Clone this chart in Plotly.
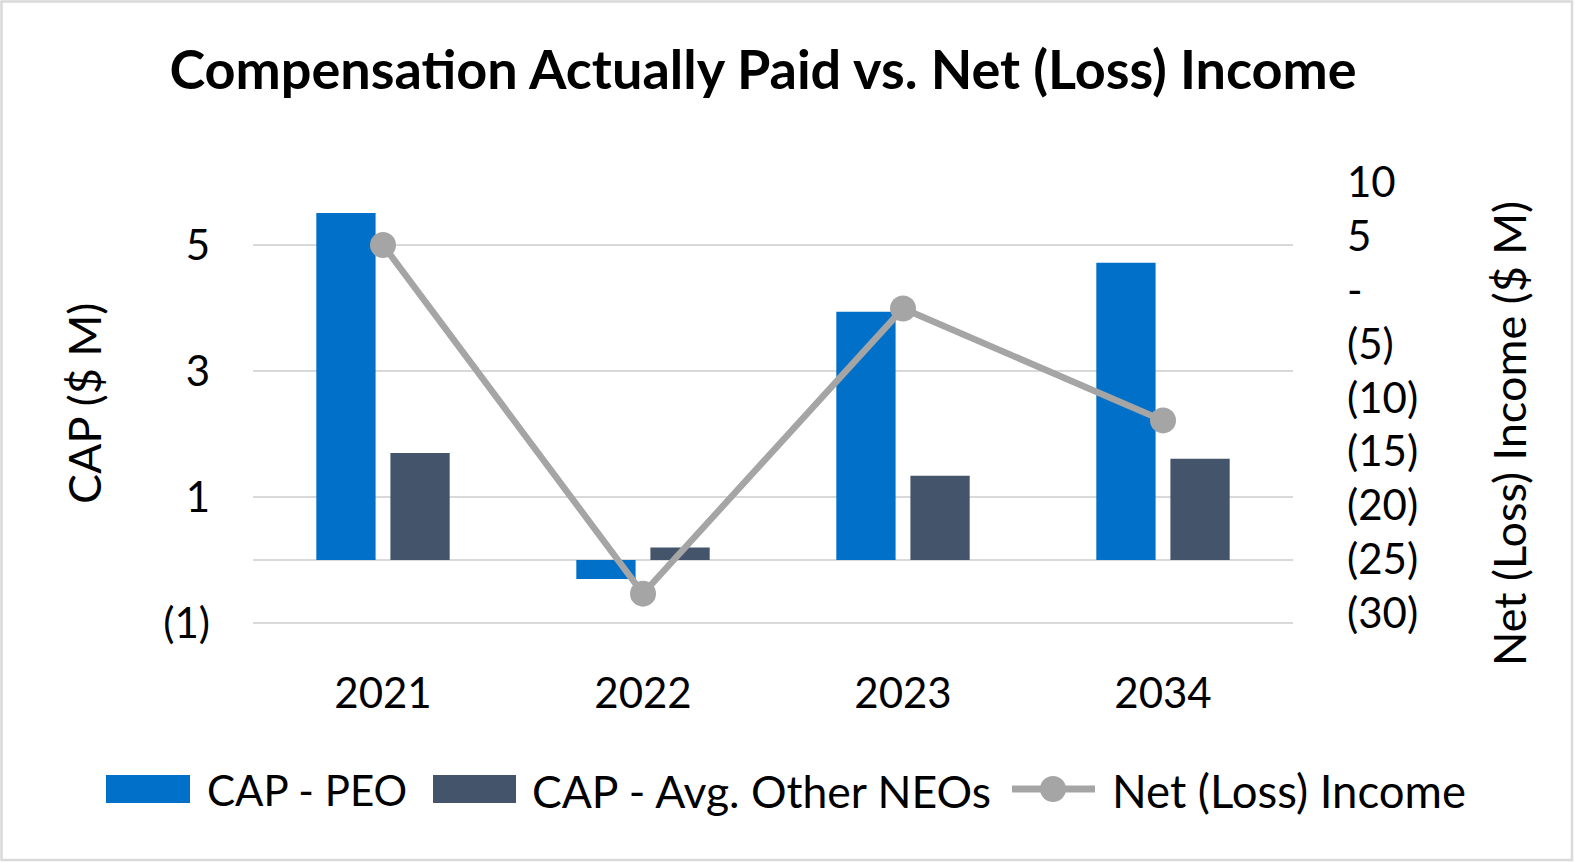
import plotly.graph_objects as go

# ---- data ----
years = ["2021", "2022", "2023", "2034"]
cap_peo = [5.51, -0.30, 3.94, 4.72]
cap_neo = [1.70, 0.20, 1.34, 1.61]
net_income = [4.2, -28.2, -1.7, -12.1]

left_tickvals = [-1, 1, 3, 5]
left_ticktext = ["(1)", "1", "3", "5"]
right_tickvals = [-30, -25, -20, -15, -10, -5, 0, 5, 10]
right_ticktext = ["(30)", "(25)", "(20)", "(15)", "(10)", "(5)", "-", "5", "10"]

series_names = ["CAP - PEO", "CAP - Avg. Other NEOs", "Net (Loss) Income"]
title_text = "Compensation Actually Paid vs. Net (Loss) Income"
left_title = "CAP ($ M)"
right_title = "Net (Loss) Income ($ M)"

# ---- styling ----
W, H = 1575, 863
ML, MR, MT, MB = 253, 282, 182, 238
PW, PH = W - ML - MR, H - MT - MB
FONT = "Lato"
C_PEO = "#0070C8"
C_NEO = "#44546A"
C_LINE = "#A5A5A5"
C_GRID = "#D9D9D9"


def xp(px):
    return (px - ML) / PW


def yp(py):
    return (H - MB - py) / PH


fig = go.Figure()
fig.add_trace(go.Bar(x=years, y=cap_peo, name=series_names[0], marker_color=C_PEO,
                     marker_line_width=0, showlegend=False))
fig.add_trace(go.Bar(x=years, y=cap_neo, name=series_names[1], marker_color=C_NEO,
                     marker_line_width=0, showlegend=False))
fig.add_trace(go.Scatter(x=years, y=net_income, name=series_names[2], yaxis="y2",
                         mode="lines+markers",
                         line=dict(color=C_LINE, width=6.5),
                         marker=dict(color=C_LINE, size=26, line=dict(width=0)),
                         showlegend=False))

# custom legend (shapes + text) to mimic the large legend keys
shapes = [
    dict(type="rect", xref="paper", yref="paper", x0=xp(1.5), x1=xp(1572), y0=yp(1.5), y1=yp(860),
         line=dict(color=C_GRID, width=2.5), fillcolor="rgba(0,0,0,0)", layer="below"),
    dict(type="rect", xref="paper", yref="paper", x0=xp(106), x1=xp(190), y0=yp(775), y1=yp(803),
         line=dict(width=0), fillcolor=C_PEO),
    dict(type="rect", xref="paper", yref="paper", x0=xp(433), x1=xp(516), y0=yp(775), y1=yp(803),
         line=dict(width=0), fillcolor=C_NEO),
    dict(type="line", xref="paper", yref="paper", x0=xp(1012), x1=xp(1095), y0=yp(789), y1=yp(789),
         line=dict(color=C_LINE, width=7)),
    dict(type="circle", xref="paper", yref="paper", x0=xp(1040), x1=xp(1066), y0=yp(776), y1=yp(802),
         line=dict(width=0), fillcolor=C_LINE),
]

annotations = [
    dict(text=series_names[0], x=xp(205), y=yp(790), xanchor="left", yanchor="middle", size=42),
    dict(text=series_names[1], x=xp(530), y=yp(790), xanchor="left", yanchor="middle", size=44.5),
    dict(text=series_names[2], x=xp(1110), y=yp(790), xanchor="left", yanchor="middle", size=45.5),
    dict(text=left_title, x=xp(84), y=yp(404), xanchor="center", yanchor="middle", textangle=-90, size=45),
    dict(text=right_title, x=xp(1509), y=yp(434), xanchor="center", yanchor="middle", textangle=-90, size=45),
]
for a in annotations:
    sz = a.pop("size")
    a.update(xref="paper", yref="paper", showarrow=False, font=dict(family=FONT, size=sz, color="#000000"))

fig.update_layout(
    width=W, height=H,
    margin=dict(l=ML, r=MR, t=MT, b=MB, pad=0),
    paper_bgcolor="white", plot_bgcolor="white",
    barmode="group", bargap=0.43, bargroupgap=0.2,
    title=dict(text="<b>" + title_text + "</b>", xref="container", yref="container",
               x=763 / W, y=1 - 70 / H, xanchor="center", yanchor="middle",
               font=dict(family=FONT, size=54, color="#000000")),
    font=dict(family=FONT, size=42, color="#000000"),
    xaxis=dict(type="category", showgrid=False, showline=False, zeroline=False, ticks="",
               tickfont=dict(family=FONT, size=42, color="#000000"), ticklabelstandoff=40),
    yaxis=dict(range=[-1.03, 6], tickvals=left_tickvals, ticktext=left_ticktext,
               showgrid=True, gridcolor=C_GRID, gridwidth=2,
               zeroline=True, zerolinecolor=C_GRID, zerolinewidth=2,
               showline=False, ticks="", ticklabelstandoff=42,
               tickfont=dict(family=FONT, size=42, color="#000000")),
    yaxis2=dict(overlaying="y", side="right", range=[-31.11, 10.05],
                tickvals=right_tickvals, ticktext=right_ticktext,
                showgrid=False, zeroline=False, showline=False, ticks="", ticklabelstandoff=53,
                tickfont=dict(family=FONT, size=42, color="#000000")),
    shapes=shapes,
    annotations=annotations,
    showlegend=False,
)

fig.write_html("out.html", config={"displayModeBar": False},
               post_script="document.body.style.margin='0px';")
